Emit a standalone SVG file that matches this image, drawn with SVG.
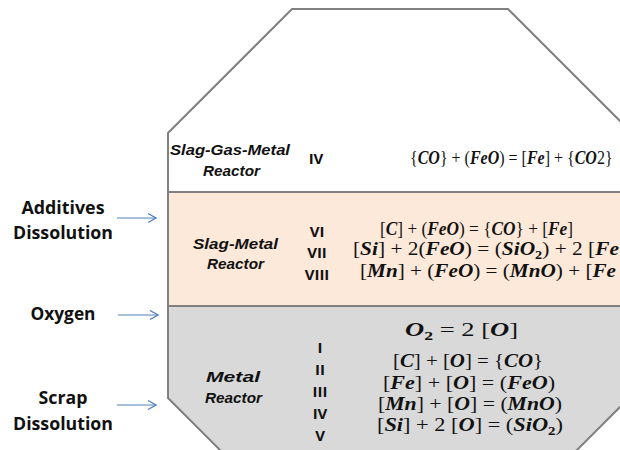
<svg xmlns="http://www.w3.org/2000/svg" width="620" height="450" viewBox="0 0 620 450">
  <style>
    .wall { fill: none; stroke: #808080; stroke-width: 2; stroke-linejoin: miter; }
    .sep { stroke: #808080; stroke-width: 2; }
    .side { font-family: "Open Sans", Lato, "Liberation Sans", sans-serif; font-weight: bold; font-size: 17px; fill: #111; text-anchor: middle; }
    .zone { font-family: "Liberation Sans", Arial, sans-serif; font-weight: bold; font-style: italic; font-size: 15px; fill: #111; }
    .num { font-family: "Open Sans", Lato, "Liberation Sans", sans-serif; font-weight: bold; font-size: 15px; fill: #111; text-anchor: middle; }
    .eq { font-family: "Liberation Serif", "DejaVu Serif", serif; font-size: 18px; fill: #111; }
    .v { font-weight: bold; font-style: italic; }
    .sub { font-size: 12px; font-weight: bold; }
    .feed { stroke: #4F81BD; stroke-width: 1.2; fill: none; }
  </style>
  <defs>
    <marker id="open-arrow" viewBox="0 0 10 10" refX="9" refY="5" markerWidth="10" markerHeight="10" markerUnits="userSpaceOnUse" orient="auto">
      <path d="M1,0.5 L9,5 L1,9.5" fill="none" stroke="#4F81BD" stroke-width="1.2"/>
    </marker>
  </defs>

  <rect width="620" height="450" fill="#ffffff"/>

  <!-- vessel zones -->
  <g id="zone-slag-gas-metal">
    <polygon points="168,192 168,133 292,9 508,9 625,126 625,192" fill="#ffffff"/>
  </g>
  <g id="zone-slag-metal">
    <rect x="168" y="192" width="457" height="114" fill="#FDE9D9"/>
  </g>
  <g id="zone-metal">
    <polygon points="168,306 625,306 625,402 572,455 225,455 168,398" fill="#D9D9D9"/>
  </g>

  <!-- vessel outline and zone boundaries -->
  <g id="vessel-outline">
    <path class="wall" d="M225,455 L168,398 L168,133 L292,9 L508,9 L625,126"/>
    <path class="wall" d="M625,402 L572,455"/>
    <line class="sep" x1="168" y1="192" x2="625" y2="192"/>
    <line class="sep" x1="168" y1="306" x2="625" y2="306"/>
  </g>

  <!-- feeds into the vessel -->
  <g id="connectors">
    <line class="feed" x1="117" y1="218" x2="156" y2="218" marker-end="url(#open-arrow)"/>
    <line class="feed" x1="118" y1="315" x2="158" y2="315" marker-end="url(#open-arrow)"/>
    <line class="feed" x1="117" y1="405" x2="156" y2="405" marker-end="url(#open-arrow)"/>
  </g>

  <g id="feed-additives">
    <text class="side" x="63" y="214" textLength="83" lengthAdjust="spacingAndGlyphs">Additives</text>
    <text class="side" x="63" y="239" textLength="100" lengthAdjust="spacingAndGlyphs">Dissolution</text>
  </g>
  <g id="feed-oxygen">
    <text class="side" x="63" y="320" textLength="65" lengthAdjust="spacingAndGlyphs">Oxygen</text>
  </g>
  <g id="feed-scrap">
    <text class="side" x="63" y="404" textLength="49" lengthAdjust="spacingAndGlyphs">Scrap</text>
    <text class="side" x="63" y="430" textLength="100" lengthAdjust="spacingAndGlyphs">Dissolution</text>
  </g>

  <!-- slag-gas-metal reactor -->
  <g id="reactor-slag-gas-metal">
    <text class="zone" x="170" y="155" textLength="120" lengthAdjust="spacingAndGlyphs">Slag-Gas-Metal</text>
    <text class="zone" x="203" y="176" textLength="57" lengthAdjust="spacingAndGlyphs">Reactor</text>
    <text class="num" x="316" y="164">IV</text>
    <text class="eq" style="font-size:19.5px" transform="translate(410,164) scale(0.82,1)">{<tspan class="v">CO</tspan>} + (<tspan class="v">FeO</tspan>) = [<tspan class="v">Fe</tspan>] + {<tspan class="v">CO</tspan>2}</text>
  </g>

  <!-- slag-metal reactor -->
  <g id="reactor-slag-metal">
    <text class="zone" x="193" y="249" textLength="85" lengthAdjust="spacingAndGlyphs">Slag-Metal</text>
    <text class="zone" x="207" y="269" textLength="57" lengthAdjust="spacingAndGlyphs">Reactor</text>
    <text class="num" x="317" y="237">VI</text>
    <text class="num" x="317" y="258">VII</text>
    <text class="num" x="317" y="280">VIII</text>
    <text class="eq" x="380" y="235" textLength="193" lengthAdjust="spacingAndGlyphs">[<tspan class="v">C</tspan>] + (<tspan class="v">FeO</tspan>) = {<tspan class="v">CO</tspan>} +  [<tspan class="v">Fe</tspan>]</text>
    <text class="eq" x="353" y="255" textLength="266" lengthAdjust="spacingAndGlyphs">[<tspan class="v">Si</tspan>] + 2(<tspan class="v">FeO</tspan>) = (<tspan class="v">SiO</tspan><tspan class="sub" dy="4">2</tspan><tspan dy="-4">) + 2 [</tspan><tspan class="v">Fe</tspan></text>
    <text class="eq" x="360" y="277" textLength="256" lengthAdjust="spacingAndGlyphs">[<tspan class="v">Mn</tspan>] + (<tspan class="v">FeO</tspan>) = (<tspan class="v">MnO</tspan>) +  [<tspan class="v">Fe</tspan></text>
  </g>

  <!-- metal reactor -->
  <g id="reactor-metal">
    <text class="zone" x="206" y="382" textLength="54" lengthAdjust="spacingAndGlyphs">Metal</text>
    <text class="zone" x="205" y="403" textLength="57" lengthAdjust="spacingAndGlyphs">Reactor</text>
    <text class="num" x="320" y="353">I</text>
    <text class="num" x="320" y="375">II</text>
    <text class="num" x="320" y="397">III</text>
    <text class="num" x="320" y="419">IV</text>
    <text class="num" x="320" y="441">V</text>
    <text class="eq" x="405" y="336" textLength="113" lengthAdjust="spacingAndGlyphs"><tspan class="v">O</tspan><tspan class="sub" dy="4">2</tspan><tspan dy="-4"> = 2 [</tspan><tspan class="v">O</tspan>]</text>
    <text class="eq" x="393" y="367" textLength="150" lengthAdjust="spacingAndGlyphs">[<tspan class="v">C</tspan>] +  [<tspan class="v">O</tspan>] = {<tspan class="v">CO</tspan>}</text>
    <text class="eq" x="383" y="389" textLength="172" lengthAdjust="spacingAndGlyphs">[<tspan class="v">Fe</tspan>] +  [<tspan class="v">O</tspan>] = (<tspan class="v">FeO</tspan>)</text>
    <text class="eq" x="378" y="410" textLength="184" lengthAdjust="spacingAndGlyphs">[<tspan class="v">Mn</tspan>] +  [<tspan class="v">O</tspan>] = (<tspan class="v">MnO</tspan>)</text>
    <text class="eq" x="377" y="431" textLength="186" lengthAdjust="spacingAndGlyphs">[<tspan class="v">Si</tspan>] +  2 [<tspan class="v">O</tspan>] = (<tspan class="v">SiO</tspan><tspan class="sub" dy="4">2</tspan><tspan dy="-4">)</tspan></text>
  </g>
</svg>
